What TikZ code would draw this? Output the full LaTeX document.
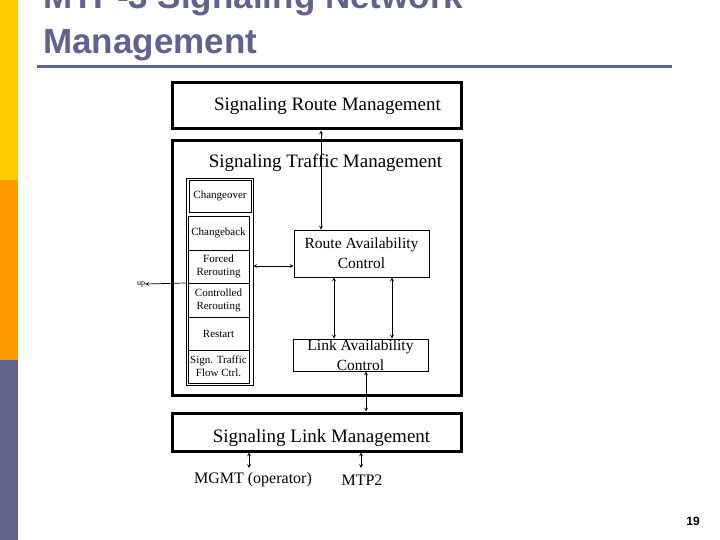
\documentclass[tikz,border=0pt]{standalone}
\usepackage{fontspec}
\setmainfont{Liberation Serif}
\newfontfamily\titlefont{Liberation Sans}
\definecolor{slate}{HTML}{62628F}
\definecolor{bary}{HTML}{FFCC00}
\definecolor{baro}{HTML}{FF9900}
\begin{document}
\begin{tikzpicture}[x=1pt,y=-1pt,
  big/.style={draw,line width=3pt,minimum width=289pt,inner sep=0pt,font=\fontsize{19}{21}\selectfont},
  sm/.style={draw,line width=0.7pt,minimum width=61pt,minimum height=33pt,inner sep=0pt,align=center,font=\fontsize{11}{13}\selectfont},
  mid/.style={draw,line width=0.9pt,minimum width=135pt,inner sep=0pt,align=center,font=\fontsize{15.5}{20}\selectfont},
  arr/.style={<->,>=stealth,line width=0.7pt},
  every node/.style={text=black}]
\useasboundingbox (0,0) rectangle (720,540);
\fill[white] (0,0) rectangle (720,540);
\fill[bary] (0,0) rectangle (18,180);
\fill[baro] (0,180) rectangle (18,360);
\fill[slate] (0,360) rectangle (18,540);
\node[anchor=base west,text=slate,font=\titlefont\bfseries\fontsize{35}{38}\selectfont,inner sep=0pt] (t1) at (43,9) {MTP-3 Signaling Network};
\node[anchor=base west,text=slate,font=\titlefont\bfseries\fontsize{35}{38}\selectfont,inner sep=0pt] (t2) at (43,54) {Management};
\draw[slate,line width=3pt] (37,67) -- (672,67);
\node[big,minimum height=46pt] (srm) at (316.5,106) {\hspace*{22pt}Signaling Route Management};
\node[big,minimum height=254pt,label={[anchor=north,yshift=-11pt,xshift=9pt,font=\fontsize{19}{21}\selectfont]north:Signaling Traffic Management}] (stm) at (316.5,268) {};
\node[draw,line width=0.7pt,minimum width=67pt,minimum height=207pt,inner sep=0pt] (col) at (219.5,281.5) {};
\node[sm,minimum height=32pt,minimum width=62pt] (c1) at (220,196) {Changeover};
\node[sm,minimum height=34pt] (c2) at (218.5,233) {Changeback};
\node[sm] (c3) at (218.5,266.5) {Forced\\Rerouting};
\node[sm,minimum height=34pt] (c4) at (218.5,300) {Controlled\\Rerouting};
\node[sm] (c5) at (218.5,333.5) {Restart};
\node[sm] (c6) at (218.5,366.5) {Sign. Traffic\\Flow Ctrl.};
\node[mid,minimum height=47pt] (rac) at (361.5,253.5) {Route Availability\\Control};
\node[mid,minimum height=32pt] (lac) at (360.5,355) {Link Availability\\Control};
\node[big,minimum height=38pt,label={[anchor=center,yshift=-6pt,xshift=5pt,font=\fontsize{19}{21}\selectfont]center:Signaling Link Management}] (slm) at (316.5,432) {};
\node[font=\fontsize{16}{18}\selectfont] (mg) at (253,480) {MGMT (operator)};
\node[font=\fontsize{16}{18}\selectfont] (m2) at (362,480) {MTP2};
\node[font=\fontsize{8}{9}\selectfont,inner sep=0pt] (up) at (141,284) {up};
\node[font=\titlefont\bfseries\fontsize{12}{14}\selectfont] (pg) at (693,521) {19};
\draw[arr] (srm.south -| 321,0) -- (rac.north -| 321,0);
\draw[arr] (col.east |- 0,266) -- (rac.west |- 0,266);
\draw[arr] (rac.south -| 334,0) -- (lac.north -| 334,0);
\draw[arr] (rac.south -| 392,0) -- (lac.north -| 392,0);
\draw[arr] (lac.south -| 366,0) -- (slm.north -| 366,0);
\draw[->,>=stealth,line width=0.7pt] (col.west |- 0,283) -- (up.east);
\draw[arr] (slm.south -| 249,0) -- (249,468);
\draw[arr] (slm.south -| 361,0) -- (361,468);
\end{tikzpicture}
\end{document}
